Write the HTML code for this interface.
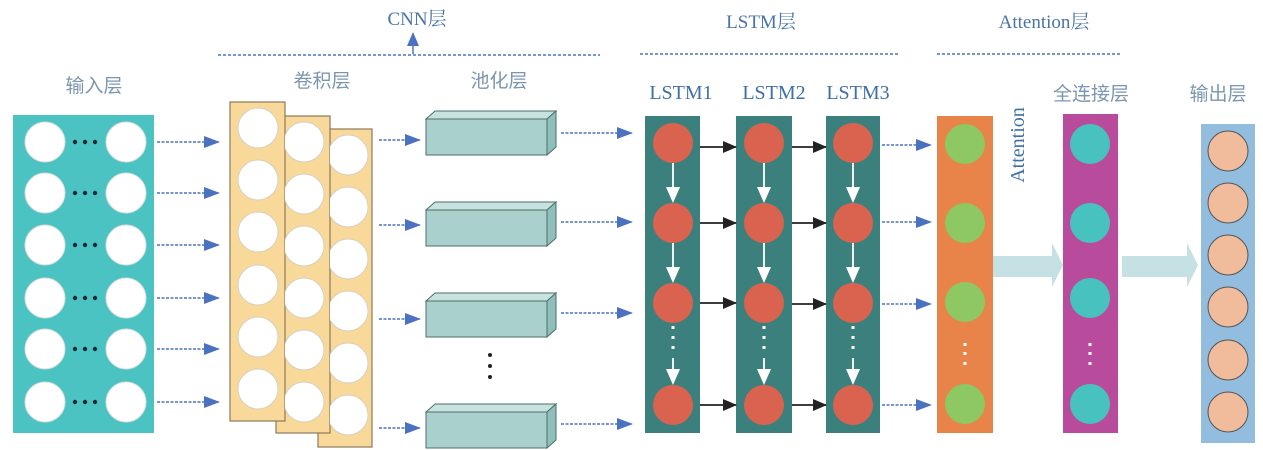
<!DOCTYPE html>
<html><head><meta charset="utf-8"><style>
html,body{margin:0;padding:0;background:#fff;}
svg{display:block;}
.h{font-family:"Liberation Serif","Noto Serif CJK SC",serif;font-size:19px;fill:#4a74a8;}
.s{font-family:"Liberation Sans","Noto Sans CJK SC",sans-serif;font-size:19px;fill:#7b96b0;}
.l{font-family:"Liberation Serif",serif;font-size:20px;fill:#3f6fa8;}
</style></head><body>
<svg width="1263" height="450" viewBox="0 0 1263 450" xmlns="http://www.w3.org/2000/svg">
<defs>
<marker id="ba" markerWidth="16" markerHeight="12" refX="15" refY="6" orient="auto" markerUnits="userSpaceOnUse"><path d="M0,0 L16,6 L0,12 Z" fill="#4a72c0"/></marker>
<marker id="ka" markerWidth="14" markerHeight="12" refX="13" refY="6" orient="auto" markerUnits="userSpaceOnUse"><path d="M0,0 L14,6 L0,12 Z" fill="#222"/></marker>
<clipPath id="c3"><rect x="330" y="120" width="50" height="340"/></clipPath>
<clipPath id="c2"><rect x="285" y="110" width="50" height="340"/></clipPath>
</defs>

<text class="h" x="417" y="25" text-anchor="middle">CNN层</text>
<text class="h" x="761" y="28" text-anchor="middle">LSTM层</text>
<text class="h" x="1044" y="28" text-anchor="middle">Attention层</text>
<line x1="218" y1="55" x2="600" y2="55" stroke="#4a72c0" stroke-width="1.5" stroke-dasharray="3,2"/>
<line x1="640" y1="54" x2="899" y2="54" stroke="#4a72c0" stroke-width="1.5" stroke-dasharray="3,2"/>
<line x1="937" y1="54" x2="1120" y2="54" stroke="#4a72c0" stroke-width="1.5" stroke-dasharray="3,2"/>
<line x1="413" y1="54" x2="413" y2="44" stroke="#4a72c0" stroke-width="1.5"/>
<path d="M407,46 L413,32 L419,46 Z" fill="#4a72c0"/>

<text class="s" x="94" y="92" text-anchor="middle">输入层</text>
<text class="s" x="322" y="87" text-anchor="middle">卷积层</text>
<text class="s" x="499" y="87" text-anchor="middle">池化层</text>
<text class="s" x="1091" y="100" text-anchor="middle">全连接层</text>
<text class="s" x="1218" y="100" text-anchor="middle">输出层</text>
<text class="l" x="681" y="99" text-anchor="middle">LSTM1</text>
<text class="l" x="774" y="99" text-anchor="middle">LSTM2</text>
<text class="l" x="858" y="99" text-anchor="middle">LSTM3</text>
<text class="l" x="0" y="0" text-anchor="middle" transform="translate(1024,145) rotate(-90)">Attention</text>

<rect x="13" y="115" width="141" height="318" fill="#4cc3c3"/>
<g fill="#fff" stroke="#ddd" stroke-width="1">
<circle cx="45" cy="142" r="20"/><circle cx="126" cy="142" r="20"/>
<circle cx="45" cy="193" r="20"/><circle cx="126" cy="193" r="20"/>
<circle cx="45" cy="245" r="20"/><circle cx="126" cy="245" r="20"/>
<circle cx="45" cy="298" r="20"/><circle cx="126" cy="298" r="20"/>
<circle cx="45" cy="349" r="20"/><circle cx="126" cy="349" r="20"/>
<circle cx="45" cy="402" r="20"/><circle cx="126" cy="402" r="20"/>
</g>
<g fill="#1a2a3a">
<g id="dd"><circle cx="75" cy="142" r="2.2"/><circle cx="85" cy="142" r="2.2"/><circle cx="95" cy="142" r="2.2"/></g>
<use href="#dd" y="51"/><use href="#dd" y="103"/><use href="#dd" y="156"/><use href="#dd" y="207"/><use href="#dd" y="260"/>
</g>
<g stroke="#4a72c0" stroke-width="1.5" stroke-dasharray="3,1.5" marker-end="url(#ba)">
<line x1="157" y1="142" x2="219" y2="142"/><line x1="157" y1="193" x2="219" y2="193"/>
<line x1="157" y1="245" x2="219" y2="245"/><line x1="157" y1="298" x2="219" y2="298"/>
<line x1="157" y1="349" x2="219" y2="349"/><line x1="157" y1="402" x2="219" y2="402"/>
</g>

<g stroke="#8a7a5a" stroke-width="1.2" fill="#f8d99a">
<rect x="318" y="129" width="54" height="318"/>
<rect x="276" y="116" width="54" height="317"/>
<rect x="230" y="102" width="55" height="319"/>
</g>
<g fill="#fff" stroke="#d8cfc0" clip-path="url(#c3)">
<circle cx="348" cy="155" r="20"/><circle cx="348" cy="207" r="20"/><circle cx="348" cy="259" r="20"/><circle cx="348" cy="311" r="20"/><circle cx="348" cy="363" r="20"/><circle cx="348" cy="415" r="20"/>
</g>
<g fill="#fff" stroke="#d8cfc0" clip-path="url(#c2)">
<circle cx="304" cy="142" r="20"/><circle cx="304" cy="194" r="20"/><circle cx="304" cy="246" r="20"/><circle cx="304" cy="298" r="20"/><circle cx="304" cy="350" r="20"/><circle cx="304" cy="402" r="20"/>
</g>
<g fill="#fff" stroke="#d8cfc0">
<circle cx="258" cy="128" r="20"/><circle cx="258" cy="180" r="20"/><circle cx="258" cy="232" r="20"/><circle cx="258" cy="285" r="20"/><circle cx="258" cy="337" r="20"/><circle cx="258" cy="389" r="20"/>
</g>
<g stroke="#4a72c0" stroke-width="1.5" stroke-dasharray="3,1.5" marker-end="url(#ba)">
<line x1="379" y1="140" x2="420" y2="140"/><line x1="379" y1="225" x2="420" y2="225"/>
<line x1="379" y1="319" x2="420" y2="319"/><line x1="379" y1="428" x2="420" y2="428"/>
</g>

<g id="pb" stroke="#4e6e6a" stroke-width="1">
<path d="M426,119 L435,111 L556,111 L547,119 Z" fill="#c8e3df"/>
<path d="M547,119 L556,111 L556,147 L547,155 Z" fill="#8fbfba"/>
<rect x="426" y="119" width="121" height="36" fill="#a9d0cc"/>
</g>
<use href="#pb" y="91"/><use href="#pb" y="182"/><use href="#pb" y="293"/>
<g fill="#222"><circle cx="490" cy="355" r="2"/><circle cx="490" cy="366" r="2"/><circle cx="490" cy="377" r="2"/></g>
<g stroke="#4a72c0" stroke-width="1.5" stroke-dasharray="3,1.5" marker-end="url(#ba)">
<line x1="561" y1="133" x2="632" y2="133"/><line x1="561" y1="222" x2="632" y2="222"/>
<line x1="561" y1="313" x2="632" y2="313"/><line x1="561" y1="424" x2="632" y2="424"/>
</g>

<g fill="#3c807e">
<rect x="645" y="116" width="55" height="317"/><rect x="736" y="116" width="56" height="317"/><rect x="826" y="116" width="54" height="317"/>
</g>
<g id="wcol">
<g stroke="#fff" stroke-width="1.8">
<line x1="673" y1="163" x2="673" y2="188"/><line x1="673" y1="243" x2="673" y2="268"/><line x1="673" y1="358" x2="673" y2="370"/>
</g>
<g fill="#fff">
<path d="M666,187 L680,187 L673,203 Z"/><path d="M666,267 L680,267 L673,283 Z"/><path d="M666,369 L680,369 L673,385 Z"/>
<rect x="671.5" y="326" width="3" height="3"/><rect x="671.5" y="336" width="3" height="3"/><rect x="671.5" y="346" width="3" height="3"/>
</g>
</g>
<use href="#wcol" x="91"/><use href="#wcol" x="180"/>
<g fill="#d9634f">
<circle cx="673" cy="143" r="20"/><circle cx="673" cy="223" r="20"/><circle cx="673" cy="303" r="20"/><circle cx="673" cy="405" r="20"/>
<circle cx="764" cy="143" r="20"/><circle cx="764" cy="223" r="20"/><circle cx="764" cy="303" r="20"/><circle cx="764" cy="405" r="20"/>
<circle cx="853" cy="143" r="20"/><circle cx="853" cy="223" r="20"/><circle cx="853" cy="303" r="20"/><circle cx="853" cy="405" r="20"/>
</g>
<g stroke="#222" stroke-width="1.8" marker-end="url(#ka)">
<line x1="700" y1="147" x2="736" y2="147"/><line x1="700" y1="223" x2="736" y2="223"/><line x1="700" y1="303" x2="736" y2="303"/><line x1="700" y1="405" x2="736" y2="405"/>
<line x1="792" y1="147" x2="826" y2="147"/><line x1="792" y1="223" x2="826" y2="223"/><line x1="792" y1="304" x2="826" y2="304"/><line x1="792" y1="405" x2="826" y2="405"/>
</g>
<g stroke="#4a72c0" stroke-width="1.5" stroke-dasharray="3,1.5" marker-end="url(#ba)">
<line x1="882" y1="145" x2="931" y2="145"/><line x1="882" y1="222" x2="931" y2="222"/>
<line x1="882" y1="304" x2="931" y2="304"/><line x1="882" y1="405" x2="931" y2="405"/>
</g>

<rect x="937" y="116" width="56" height="317" fill="#e8834a"/>
<g fill="#8dc862"><circle cx="965" cy="144" r="20"/><circle cx="965" cy="223" r="20"/><circle cx="965" cy="302" r="20"/><circle cx="965" cy="404" r="20"/></g>
<g fill="#fff"><rect x="963.5" y="343" width="3" height="3"/><rect x="963.5" y="352" width="3" height="3"/><rect x="963.5" y="362" width="3" height="3"/></g>

<path d="M993,256 L1052,256 L1052,243 L1063,265 L1052,287 L1052,277 L993,277 Z" fill="#c6e1e3"/>

<rect x="1063" y="114" width="55" height="319" fill="#b84b9b"/>
<g fill="#47c2bf"><circle cx="1090" cy="144" r="20"/><circle cx="1090" cy="223" r="20"/><circle cx="1090" cy="298" r="20"/><circle cx="1090" cy="404" r="20"/></g>
<g fill="#fff"><rect x="1088.5" y="343" width="3" height="3"/><rect x="1088.5" y="352" width="3" height="3"/><rect x="1088.5" y="362" width="3" height="3"/></g>

<path d="M1122,256 L1187,256 L1187,243 L1198,265 L1187,287 L1187,277 L1122,277 Z" fill="#c6e1e3"/>

<rect x="1201" y="124" width="54" height="319" fill="#93bddf"/>
<g fill="#f0bc9c" stroke="#555" stroke-width="1">
<circle cx="1228" cy="151" r="20"/><circle cx="1228" cy="203" r="20"/><circle cx="1228" cy="255" r="20"/><circle cx="1228" cy="307" r="20"/><circle cx="1228" cy="360" r="20"/><circle cx="1228" cy="412" r="20"/>
</g>
</svg>
</body></html>
